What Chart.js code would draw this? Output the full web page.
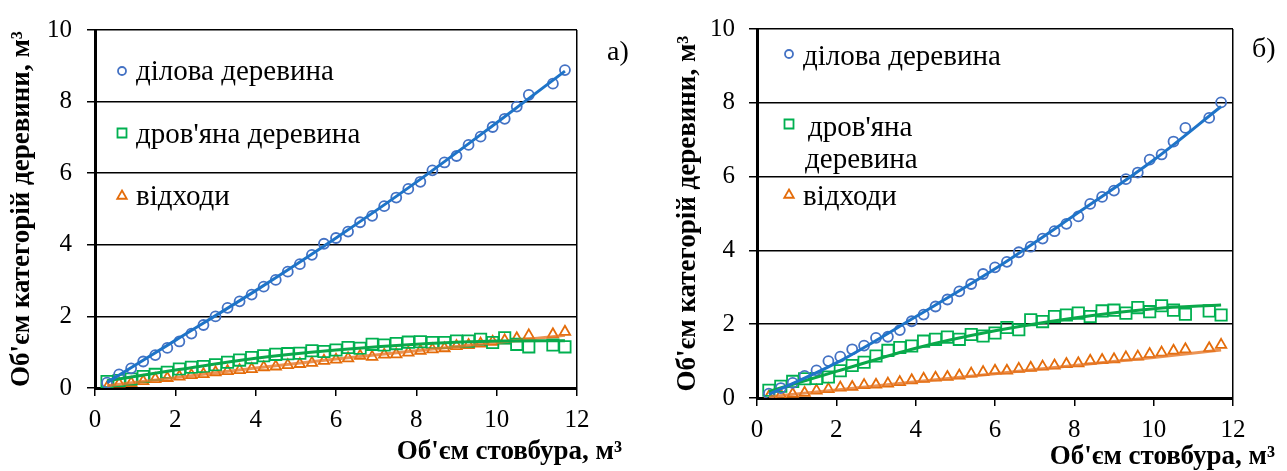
<!DOCTYPE html>
<html>
<head>
<meta charset="utf-8">
<script src="https://cdn.jsdelivr.net/npm/chart.js"></script>
<style>
  body { margin: 0; background: #fff; }
  #wrap { position: relative; width: 1287px; height: 471px; }
  canvas { position: absolute; top: 0; }
  #chartA { left: 0; }
  #chartB { left: 640px; }
</style>
</head>
<body>
<div id="wrap">
  <canvas id="chartA" width="640" height="471"></canvas>
  <canvas id="chartB" width="647" height="471"></canvas>
</div>
<script>
// stem volume, m3 (same for both panels)
const STEM = [0.3, 0.6, 0.9, 1.2, 1.5, 1.8, 2.1, 2.4, 2.7, 3.0,
  3.3, 3.6, 3.9, 4.2, 4.5, 4.8, 5.1, 5.4, 5.7, 6.0,
  6.3, 6.6, 6.9, 7.2, 7.5, 7.8, 8.1, 8.4, 8.7, 9.0,
  9.3, 9.6, 9.9, 10.2, 10.5, 10.8, 11.4, 11.7];

// panel a)
const WOOD_A = [0.15, 0.38, 0.55, 0.74, 0.92, 1.12, 1.30, 1.52, 1.76, 2.00,
  2.24, 2.42, 2.61, 2.83, 3.02, 3.25, 3.46, 3.72, 4.03, 4.19,
  4.37, 4.63, 4.81, 5.08, 5.32, 5.56, 5.76, 6.08, 6.30, 6.48,
  6.79, 7.02, 7.29, 7.52, 7.86, 8.19, 8.50, 8.88];
const FUEL_A = [0.18, 0.21, 0.25, 0.32, 0.38, 0.44, 0.53, 0.58, 0.60, 0.65,
  0.72, 0.78, 0.85, 0.90, 0.94, 0.96, 0.97, 1.04, 1.02, 1.06,
  1.13, 1.11, 1.22, 1.20, 1.24, 1.28, 1.29, 1.27, 1.27, 1.31,
  1.31, 1.36, 1.27, 1.40, 1.22, 1.15, 1.20, 1.15];
const WASTE_A = [0.01, 0.12, 0.14, 0.19, 0.25, 0.28, 0.32, 0.36, 0.39, 0.44,
  0.47, 0.50, 0.53, 0.58, 0.60, 0.64, 0.67, 0.70, 0.76, 0.79,
  0.83, 0.90, 0.87, 0.93, 0.94, 0.99, 1.04, 1.08, 1.11, 1.17,
  1.20, 1.24, 1.29, 1.33, 1.39, 1.47, 1.50, 1.57];

// panel б)
const WOOD_B = [0.12, 0.27, 0.41, 0.60, 0.75, 1.00, 1.12, 1.32, 1.42, 1.63,
  1.66, 1.84, 2.08, 2.26, 2.48, 2.67, 2.89, 3.09, 3.36, 3.54,
  3.69, 3.95, 4.10, 4.32, 4.52, 4.72, 4.92, 5.26, 5.45, 5.62,
  5.93, 6.11, 6.46, 6.60, 6.95, 7.32, 7.59, 8.01];
const FUEL_B = [0.21, 0.32, 0.45, 0.52, 0.53, 0.57, 0.74, 0.88, 0.97, 1.14,
  1.29, 1.37, 1.41, 1.54, 1.59, 1.65, 1.59, 1.72, 1.68, 1.76,
  1.91, 1.85, 2.12, 2.07, 2.21, 2.25, 2.30, 2.21, 2.36, 2.38,
  2.30, 2.45, 2.34, 2.50, 2.38, 2.27, 2.36, 2.25];
const WASTE_B = [0.04, 0.08, 0.11, 0.14, 0.20, 0.24, 0.28, 0.30, 0.35, 0.36,
  0.39, 0.43, 0.48, 0.52, 0.55, 0.57, 0.61, 0.66, 0.70, 0.74,
  0.74, 0.79, 0.82, 0.85, 0.88, 0.92, 0.94, 1.01, 1.03, 1.05,
  1.10, 1.12, 1.19, 1.23, 1.28, 1.32, 1.35, 1.44];

// fitted trend lines, read at a few points
const TREND_X = [0.3, 2, 4, 6, 8, 10, 11.7];
const TREND_WOOD_A = [0.15, 1.33, 2.72, 4.19, 5.75, 7.41, 8.85];
const TREND_FUEL_A = [0.20, 0.50, 0.83, 1.06, 1.22, 1.31, 1.32];
const TREND_WASTE_A = [0.06, 0.29, 0.56, 0.81, 1.04, 1.27, 1.47];
const TREND_WOOD_B = [0.10, 0.95, 2.20, 3.50, 4.95, 6.45, 7.90];
const TREND_FUEL_B = [0.18, 0.72, 1.35, 1.82, 2.17, 2.42, 2.52];
const TREND_WASTE_B = [0.03, 0.22, 0.44, 0.66, 0.88, 1.10, 1.30];

const SERIES = ['ділова деревина', "дров'яна деревина", 'відходи'];
const Y_TITLE = "Об'єм категорій деревини, м³";
const X_TITLE = "Об'єм стовбура, м³";

const SERIF = "'Liberation Serif', 'Times New Roman', serif";
const BLUE = 'rgb(68, 114, 196)';
const BLUE_LINE = 'rgb(30, 116, 200)';
const GREEN = 'rgb(0, 176, 80)';
const GREEN_LINE = 'rgb(10, 168, 74)';
const ORANGE = 'rgb(228, 108, 10)';
const ORANGE_LINE = 'rgba(230, 120, 40, 0.8)';

function pts(xs, ys) {
  return xs.map((x, i) => ({ x: x, y: ys[i] }));
}

function drawMarker(ctx, style, color, x, y, r) {
  ctx.beginPath();
  ctx.lineWidth = 1.8;
  ctx.strokeStyle = color;
  if (style === 'circle') {
    ctx.arc(x, y, r, 0, Math.PI * 2);
  } else if (style === 'rect') {
    ctx.rect(x - r, y - r, 2 * r, 2 * r);
  } else {
    ctx.moveTo(x, y - r);
    ctx.lineTo(x + r * 0.866, y + r * 0.5);
    ctx.lineTo(x - r * 0.866, y + r * 0.5);
    ctx.closePath();
  }
  ctx.stroke();
}

// legend inside plot, x-axis title and panel letter
const extras = {
  id: 'extras',
  afterDraw(chart, args, opts) {
    const ctx = chart.ctx;
    ctx.save();
    ctx.textBaseline = 'middle';
    ctx.fillStyle = '#000';
    ctx.font = '29px ' + SERIF;
    opts.legend.forEach(it => {
      drawMarker(ctx, it.style, it.color, it.x, it.y, it.r);
      it.lines.forEach(l => ctx.fillText(l[0], l[1], l[2]));
    });
    ctx.font = '28px ' + SERIF;
    ctx.textAlign = 'left';
    ctx.fillText(opts.panel[0], opts.panel[1], opts.panel[2]);
    ctx.font = 'bold 27px ' + SERIF;
    ctx.textAlign = 'right';
    ctx.fillText(X_TITLE, opts.xTitle[0], opts.xTitle[1]);
    ctx.restore();
  }
};

function datasets(wood, fuel, waste, tWood, tFuel, tWaste) {
  return [
    { label: SERIES[0], data: pts(STEM, wood), pointStyle: 'circle', pointRadius: 5,
      borderColor: BLUE, backgroundColor: 'rgba(0,0,0,0)', pointBorderWidth: 1.8, order: 1 },
    { label: SERIES[1], data: pts(STEM, fuel), pointStyle: 'rect', pointRadius: 8,
      borderColor: GREEN, backgroundColor: 'rgba(0,0,0,0)', pointBorderWidth: 1.8, order: 1 },
    { label: SERIES[2], data: pts(STEM, waste), pointStyle: 'triangle', pointRadius: 6,
      borderColor: ORANGE, backgroundColor: 'rgba(0,0,0,0)', pointBorderWidth: 1.8, order: 1 },
    { label: 'trend 1', data: pts(TREND_X, tWood), showLine: true, pointRadius: 0,
      borderColor: BLUE_LINE, borderWidth: 3, tension: 0.4, cubicInterpolationMode: 'monotone', order: 0 },
    { label: 'trend 2', data: pts(TREND_X, tFuel), showLine: true, pointRadius: 0,
      borderColor: GREEN_LINE, borderWidth: 3, tension: 0.4, cubicInterpolationMode: 'monotone', order: 0 },
    { label: 'trend 3', data: pts(TREND_X, tWaste), showLine: true, pointRadius: 0,
      borderColor: ORANGE_LINE, borderWidth: 3, tension: 0.4, cubicInterpolationMode: 'monotone', order: 0 }
  ];
}

function scales(yWidth, xHeight, yTickPad, titlePad) {
  return {
    x: {
      type: 'linear', min: 0, max: 12,
      ticks: { stepSize: 2, color: '#000', padding: 9, maxRotation: 0,
        font: { family: SERIF, size: 25 } },
      grid: {
        color: c => (c.tick && c.tick.value === 12 ? '#000' : 'rgba(0,0,0,0)'),
        tickColor: '#000', lineWidth: 1.5, tickWidth: 1.5, tickLength: 8
      },
      border: { color: '#000', width: 3 },
      afterFit: s => { s.height = xHeight; }
    },
    y: {
      type: 'linear', min: 0, max: 10,
      ticks: { stepSize: 2, color: '#000', padding: yTickPad,
        font: { family: SERIF, size: 25 } },
      grid: { color: '#000', lineWidth: 1.5, tickWidth: 1.5, tickLength: 8 },
      border: { color: '#000', width: 3 },
      title: { display: true, text: Y_TITLE, color: '#000',
        padding: { top: titlePad, bottom: 0 },
        font: { family: SERIF, size: 27, weight: 'bold' } },
      afterFit: s => { s.width = yWidth; }
    }
  };
}

let chartA = new Chart(document.getElementById('chartA'), {
  type: 'scatter',
  data: { datasets: datasets(WOOD_A, FUEL_A, WASTE_A, TREND_WOOD_A, TREND_FUEL_A, TREND_WASTE_A) },
  options: {
    responsive: false,
    animation: false,
    layout: { padding: { left: 0, top: 25, right: 63, bottom: 0 } },
    scales: scales(95, 83, 15, 6),
    plugins: {
      legend: { display: false },
      tooltip: { enabled: false },
      extras: {
        legend: [
          { style: 'circle', color: BLUE, x: 122, y: 71, r: 4, lines: [[SERIES[0], 136, 72]] },
          { style: 'rect', color: GREEN, x: 122, y: 133, r: 4.5, lines: [[SERIES[1], 136, 135]] },
          { style: 'triangle', color: ORANGE, x: 122, y: 196, r: 5.5, lines: [[SERIES[2], 136, 197]] }
        ],
        panel: ['а)', 607, 53],
        xTitle: [622, 452]
      }
    }
  },
  plugins: [extras]
});

let chartB = new Chart(document.getElementById('chartB'), {
  type: 'scatter',
  data: { datasets: datasets(WOOD_B, FUEL_B, WASTE_B, TREND_WOOD_B, TREND_FUEL_B, TREND_WASTE_B) },
  options: {
    responsive: false,
    animation: false,
    layout: { padding: { left: 0, top: 22, right: 54, bottom: 0 } },
    scales: scales(117, 73, 14, 32),
    plugins: {
      legend: { display: false },
      tooltip: { enabled: false },
      extras: {
        legend: [
          { style: 'circle', color: BLUE, x: 149, y: 54, r: 4, lines: [[SERIES[0], 163, 57]] },
          { style: 'rect', color: GREEN, x: 149, y: 124, r: 4.5, lines: [["дров'яна", 168, 128], ['деревина', 165, 160]] },
          { style: 'triangle', color: ORANGE, x: 149, y: 195, r: 5.5, lines: [[SERIES[2], 163, 197]] }
        ],
        panel: ['б)', 612, 50],
        xTitle: [635, 457]
      }
    }
  },
  plugins: [extras]
});
</script>
</body>
</html>
